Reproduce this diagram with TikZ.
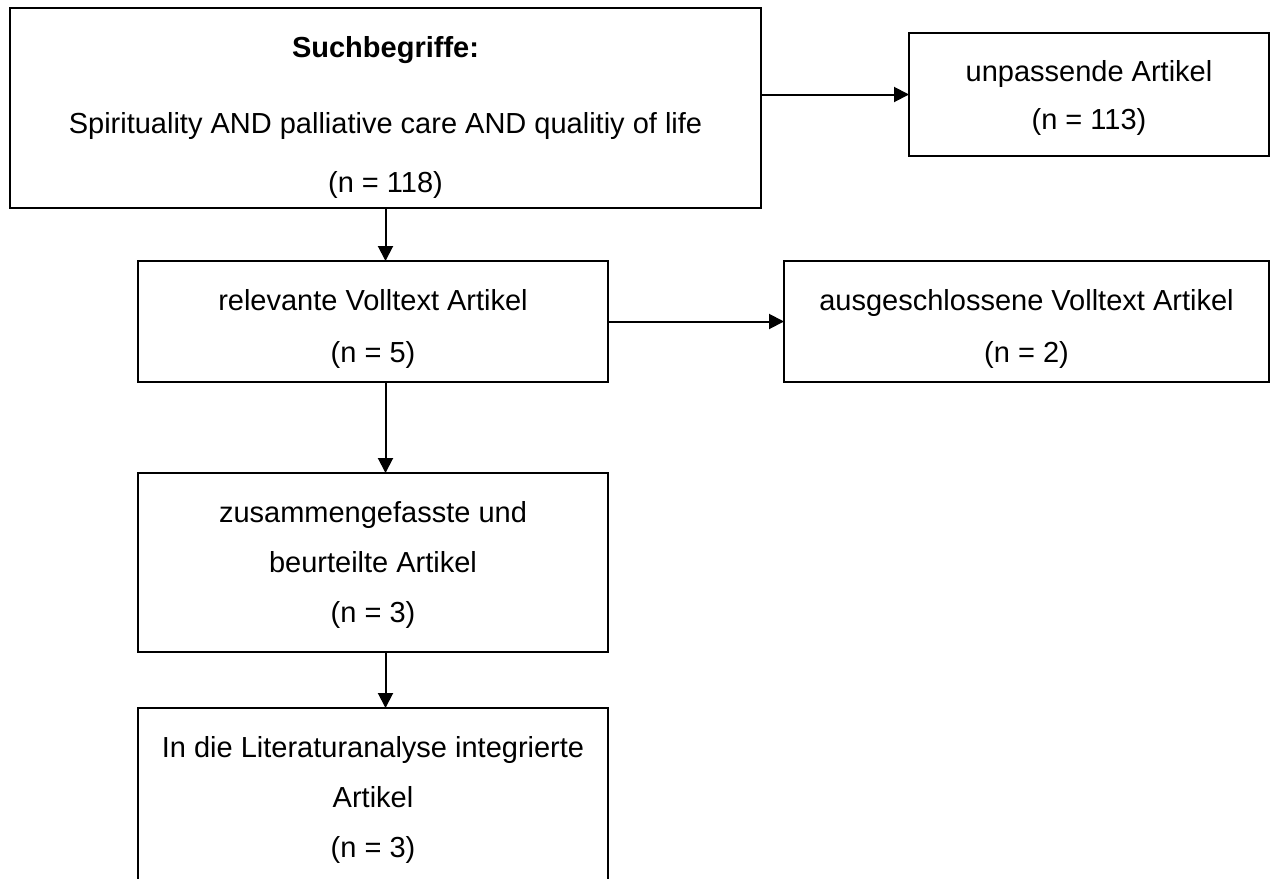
\documentclass[tikz,border=0pt]{standalone}
\usepackage{fontspec}
\setmainfont{Liberation Sans}
\usetikzlibrary{arrows.meta}

% Oberkante der ersten Zeile
\newcommand{\boxtop}[1]{\rule{0pt}{#1}}

\begin{document}
\begin{tikzpicture}[x=0.5pt,y=-0.5pt,
    box/.style={draw,line width=0.9pt,inner sep=0pt,outer sep=0pt,align=center,
      font=\fontsize{14.5}{25}\selectfont},
    flow/.style={line width=1pt,-{Triangle[length=7.5pt,width=7.5pt]}}]
  \useasboundingbox (0,0) rectangle (1276,879);
  % Suche und Ausschluss
  \node[box,minimum width=375.5pt,minimum height=100pt] (such) at (385.5,108)
    {\boxtop{20pt}\textbf{Suchbegriffe:}\\[13pt]
     Spirituality AND palliative care AND qualitiy of life\\[4.5pt]
     (n = 118)};
  \node[box,minimum width=180pt,minimum height=61.5pt,
    font=\fontsize{14.5}{24}\selectfont] (unpass) at (1089,94.5)
    {\boxtop{14pt}unpassende Artikel\\(n = 113)};
  % Volltexte
  \node[box,minimum width=235pt,minimum height=60.5pt,
    font=\fontsize{14.5}{26}\selectfont] (volltext) at (373,321.5)
    {\boxtop{17.5pt}relevante Volltext Artikel\\(n = 5)};
  \node[box,minimum width=242.5pt,minimum height=60.5pt,
    font=\fontsize{14.5}{26}\selectfont] (aussch) at (1026.5,321.5)
    {\boxtop{17.5pt}ausgeschlossene Volltext Artikel\\(n = 2)};
  % Beurteilung und Analyse
  \node[box,minimum width=235pt,minimum height=89.5pt] (beurt) at (373,562.5)
    {\boxtop{13pt}zusammengefasste und\\beurteilte Artikel\\(n = 3)};
  \node[box,minimum width=235pt,minimum height=89pt] (analyse) at (373,797)
    {\boxtop{13.5pt}In die Literaturanalyse integrierte\\Artikel\\(n = 3)};

  \draw[flow] (such.east |- unpass.west) -- (unpass.west);
  \draw[flow] (such.south) -- (such.south |- volltext.north);
  \draw[flow] (volltext.east) -- (aussch.west);
  \draw[flow] (volltext.south -| such.south) -- (beurt.north -| such.south);
  \draw[flow] (beurt.south -| such.south) -- (analyse.north -| such.south);
\end{tikzpicture}
\end{document}
